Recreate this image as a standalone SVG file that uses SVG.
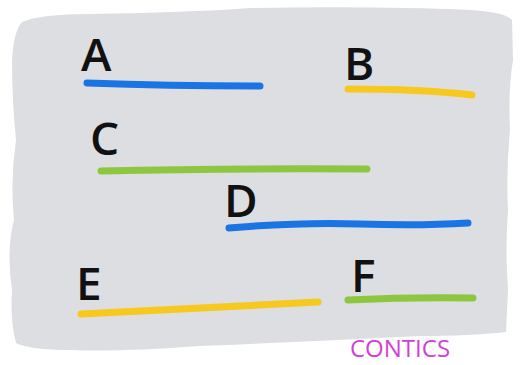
<svg xmlns="http://www.w3.org/2000/svg" width="520" height="365" viewBox="0 0 520 365">
<style>
.lbl{font-family:"Open Sans","DejaVu Sans",sans-serif;font-weight:600;font-size:46px;fill:#111}
.ln{fill:none;stroke-width:7;stroke-linecap:round}
.blue{stroke:#1b74e4}.yellow{stroke:#f7c81e}.green{stroke:#8dc63f}
</style>
<rect width="520" height="365" fill="#ffffff"/>
<path id="board" d="M22 22 Q40 14 90 14 Q200 12 250 8 Q380 6 470 10 Q505 12 512 20 L513 60 Q508 90 510 130 Q506 170 508 210 Q505 250 508 290 L506 332 Q470 336 420 336 Q300 342 200 346 Q120 352 70 350 Q30 350 16 343 Q10 320 12 290 Q6 250 14 220 Q10 180 16 140 Q12 100 12 60 Q14 30 22 22 Z" fill="#dcdee1"/>
<g id="nodeA"><text class="lbl" x="81" y="71">A</text><path class="ln blue" d="M87 83 Q170 86 260 86"/></g>
<g id="nodeB"><text class="lbl" x="344" y="80">B</text><path class="ln yellow" d="M348 89 Q420 89 472 95"/></g>
<g id="nodeC"><text class="lbl" x="90" y="155">C</text><path class="ln green" d="M101 171 Q240 168 367 169"/></g>
<g id="nodeD"><text class="lbl" x="224" y="217">D</text><path class="ln blue" d="M229 228 Q300 222 360 224 Q420 226 468 223"/></g>
<g id="nodeE"><text class="lbl" x="76" y="300">E</text><path class="ln yellow" d="M81 314 Q200 308 318 302"/></g>
<g id="nodeF"><text class="lbl" x="351" y="292">F</text><path class="ln green" d="M348 300 Q410 297 473 298"/></g>
<text x="350" y="357" font-family="Open Sans, DejaVu Sans, sans-serif" font-size="24" fill="#d23fd6">CONTICS</text>
</svg>
